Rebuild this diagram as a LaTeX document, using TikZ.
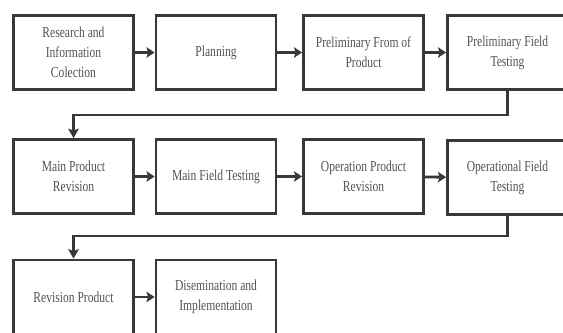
\documentclass[tikz,border=0pt]{standalone}
\usepackage{fontspec}
\setmainfont[FakeStretch=0.76]{Liberation Serif}
\usetikzlibrary{arrows.meta}

\begin{document}
\begin{tikzpicture}
[box/.style={draw=black!78,line width=2.4pt,minimum width=3.6cm,minimum height=2.22cm,
	align=center,text=black!68,font=\fontsize{13}{17}\selectfont},
 flow/.style={draw=black!78,line width=2.4pt,-{Stealth[length=7pt,width=9pt,inset=1.5pt]}},
 link/.style={draw=black!78,line width=1.8pt,-{Stealth[length=8pt,width=9pt,inset=1.5pt]}}]
\useasboundingbox (0,0) rectangle (16.89,-9.99);
\clip (0,0) rectangle (16.89,-9.99);

% first row
\node[box] (research) at (2.205,-1.575) {Research and\\Information\\Colection};
\node[box] (planning) at (6.48,-1.575) {Planning};
\node[box] (prelim) at (10.905,-1.575) {Preliminary From of\\Product};
\node[box] (fieldtest) at (15.225,-1.575) {Preliminary Field\\Testing};

% second row
\node[box] (revision) at (2.205,-5.295) {Main Product\\Revision};
\node[box] (mainfield) at (6.48,-5.295) {Main Field Testing};
\node[box] (opproduct) at (10.905,-5.295) {Operation Product\\Revision};
\node[box] (opfield) at (15.225,-5.33) {Operational Field\\Testing};

% third row
\node[box] (revprod) at (2.205,-8.91) {Revision Product};
\node[box] (dissem) at (6.48,-8.91) {Disemination and\\Implementation};

\foreach \a/\b in {research/planning, planning/prelim, prelim/fieldtest,
	revision/mainfield, mainfield/opproduct, opproduct/opfield, revprod/dissem}
	\draw[flow] (\a) -- (\b);

% row to row
\draw[link] (fieldtest.south) -- ++(0,-0.735) -| (revision.north);
\draw[link] (opfield.south) -- ++(0,-0.61) -| (revprod.north);
\end{tikzpicture}
\end{document}
